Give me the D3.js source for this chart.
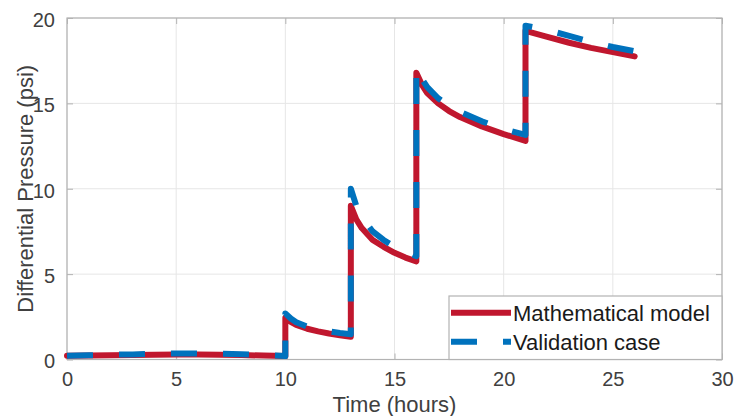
<!DOCTYPE html>
<html>
<head>
<meta charset="utf-8">
<script src="https://cdn.jsdelivr.net/npm/d3@7"></script>
<style>
  body { margin: 0; background: #fff; }
  svg { font-family: "Liberation Sans", Arial, sans-serif; }
</style>
</head>
<body>
<svg id="chart" width="735" height="416"></svg>
<script>
// time (hours) and differential pressure (psi)
var modelTime = [0, 1, 2, 3, 4, 5, 6, 7, 8, 9, 10,
    10, 10.25, 10.5, 11, 11.5, 12, 12.5, 13,
    13, 13.25, 13.5, 14, 14.5, 15, 15.5, 16,
    16, 16.25, 16.5, 17, 17.5, 18, 19, 20, 21,
    21, 22, 23, 24, 25, 26];
var modelPressure = [0.22, 0.23, 0.25, 0.27, 0.28, 0.29, 0.29, 0.28, 0.26, 0.23, 0.2,
    2.45, 2.2, 2.02, 1.8, 1.65, 1.52, 1.42, 1.33,
    9.0, 8.2, 7.7, 7.0, 6.6, 6.25, 5.97, 5.75,
    16.8, 16.1, 15.6, 15.0, 14.55, 14.2, 13.65, 13.2, 12.8,
    19.25, 18.9, 18.55, 18.25, 18.0, 17.75];

var validTime = [0, 1, 2, 3, 4, 5, 6, 7, 8, 9, 10,
    10, 10.25, 10.5, 11, 11.5, 12, 12.5, 13,
    13, 13.25, 13.5, 14, 14.5, 15, 15.5, 16,
    16, 16.25, 16.5, 17, 17.5, 18, 19, 20, 21,
    21, 22, 23, 24, 25, 26];
var validPressure = [0.22, 0.25, 0.28, 0.3, 0.33, 0.35, 0.35, 0.34, 0.31, 0.26, 0.2,
    2.7, 2.4, 2.18, 1.92, 1.77, 1.65, 1.55, 1.48,
    10.0, 9.0, 8.35, 7.5, 7.0, 6.6, 6.3, 6.05,
    17.1, 16.45, 15.95, 15.3, 14.85, 14.5, 13.95, 13.5, 13.15,
    19.55, 19.3, 18.95, 18.6, 18.3, 18.05];

var xTicks = [0, 5, 10, 15, 20, 25, 30];
var yTicks = [0, 5, 10, 15, 20];
var seriesNames = ["Mathematical model", "Validation case"];
var seriesColors = ["#c0172e", "#0072bd"];

var plotLeft = 67, plotRight = 722, plotTop = 18, plotBottom = 359.5;

var svg = d3.select('#chart');

var x = d3.scaleLinear().domain([0, 30]).range([plotLeft, plotRight]);
var y = d3.scaleLinear().domain([0, 20]).range([plotBottom, plotTop]);

// grid
svg.append('g')
    .selectAll('line')
    .data(xTicks)
    .enter()
    .append('line')
    .attr('x1', function (d) { return x(d); })
    .attr('x2', function (d) { return x(d); })
    .attr('y1', plotTop)
    .attr('y2', plotBottom)
    .attr('stroke', '#e6e6e6')
    .attr('stroke-width', 1);

svg.append('g')
    .selectAll('line')
    .data(yTicks)
    .enter()
    .append('line')
    .attr('x1', plotLeft)
    .attr('x2', plotRight)
    .attr('y1', function (d) { return y(d); })
    .attr('y2', function (d) { return y(d); })
    .attr('stroke', '#e6e6e6')
    .attr('stroke-width', 1);

// axes: ticks inside, on all four sides
var axisColor = '#b3b3b3';
var tickColor = '#404040';

function styleAxis(g) {
    g.select('.domain').remove();
    g.selectAll('.tick line').attr('stroke', axisColor);
    g.selectAll('.tick text')
        .attr('fill', tickColor)
        .style('font-size', '20px')
        .style('font-family', '"Liberation Sans", Arial, sans-serif');
}

svg.append('g')
    .attr('transform', 'translate(0,' + plotBottom + ')')
    .call(d3.axisBottom(x).tickValues(xTicks).tickSizeInner(-6).tickSizeOuter(0).tickPadding(12))
    .call(styleAxis);

svg.append('g')
    .attr('transform', 'translate(0,' + plotTop + ')')
    .call(d3.axisTop(x).tickValues(xTicks).tickSizeInner(-6).tickSizeOuter(0).tickFormat(''))
    .call(styleAxis);

svg.append('g')
    .attr('transform', 'translate(' + plotLeft + ',0)')
    .call(d3.axisLeft(y).tickValues(yTicks).tickSizeInner(-6).tickSizeOuter(0).tickPadding(12))
    .call(styleAxis)
    .selectAll('.tick text')
    .attr('dy', '0.42em');

svg.append('g')
    .attr('transform', 'translate(' + plotRight + ',0)')
    .call(d3.axisRight(y).tickValues(yTicks).tickSizeInner(-6).tickSizeOuter(0).tickFormat(''))
    .call(styleAxis);

// box
svg.append('rect')
    .attr('x', plotLeft)
    .attr('y', plotTop)
    .attr('width', plotRight - plotLeft)
    .attr('height', plotBottom - plotTop)
    .attr('fill', 'none')
    .attr('stroke', axisColor)
    .attr('stroke-width', 1.2);

// series
var line = d3.line()
    .x(function (d) { return x(d[0]); })
    .y(function (d) { return y(d[1]); });

var model = d3.zip(modelTime, modelPressure);
var valid = d3.zip(validTime, validPressure);

svg.append('path')
    .datum(model)
    .attr('d', line)
    .attr('fill', 'none')
    .attr('stroke', seriesColors[0])
    .attr('stroke-width', 6)
    .attr('stroke-linejoin', 'round')
    .attr('stroke-linecap', 'round');

svg.append('path')
    .datum(valid)
    .attr('d', line)
    .attr('fill', 'none')
    .attr('stroke', seriesColors[1])
    .attr('stroke-width', 6)
    .attr('stroke-linejoin', 'round')
    .attr('stroke-dasharray', '26,26');

// axis labels
svg.append('text')
    .attr('x', (plotLeft + plotRight) / 2)
    .attr('y', 412)
    .attr('text-anchor', 'middle')
    .attr('fill', tickColor)
    .style('font-size', '22px')
    .text('Time (hours)');

svg.append('text')
    .attr('transform', 'translate(33,' + ((plotTop + plotBottom) / 2) + ') rotate(-90)')
    .attr('text-anchor', 'middle')
    .attr('fill', tickColor)
    .style('font-size', '22px')
    .text('Differential Pressure (psi)');

// legend
var legend = svg.append('g');
legend.append('rect')
    .attr('x', 449)
    .attr('y', 296)
    .attr('width', plotRight - 449)
    .attr('height', plotBottom - 296)
    .attr('fill', '#fff')
    .attr('stroke', axisColor)
    .attr('stroke-width', 1.2);

var rows = legend.selectAll('g.row')
    .data(seriesNames)
    .enter()
    .append('g')
    .attr('class', 'row')
    .attr('transform', function (d, i) { return 'translate(451,' + (312.7 + i * 29) + ')'; });

rows.append('line')
    .attr('x1', 0)
    .attr('x2', 60)
    .attr('stroke', function (d, i) { return seriesColors[i]; })
    .attr('stroke-width', 6)
    .attr('stroke-dasharray', function (d, i) { return i === 1 ? '26,26' : null; });

rows.append('text')
    .attr('x', 62)
    .attr('dy', '0.36em')
    .attr('fill', '#1a1a1a')
    .style('font-size', '22px')
    .text(function (d) { return d; });
</script>
</body>
</html>
